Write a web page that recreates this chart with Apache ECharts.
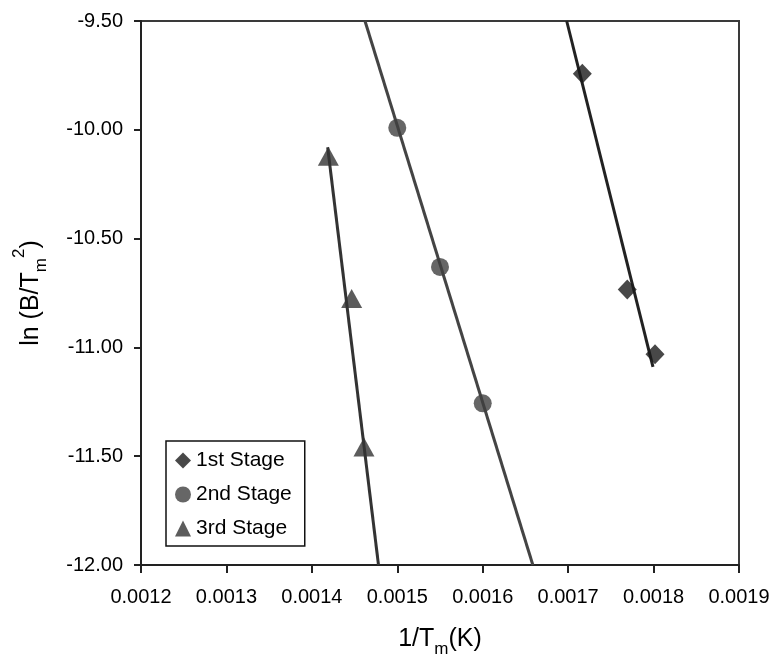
<!DOCTYPE html>
<html>
<head>
<meta charset="utf-8">
<script src="https://cdn.jsdelivr.net/npm/echarts@6/dist/echarts.min.js"></script>
<style>
  html, body { margin: 0; padding: 0; background: #fff; }
</style>
</head>
<body>
<div id="chart1" style="width:775px;height:664px"></div>
<script>
// data: [1/Tm, ln(B/Tm^2)]
var stage1 = [[0.0017166, -9.742], [0.0017692, -10.734], [0.0018017, -11.031]];
var stage2 = [[0.0015, -9.991], [0.00155, -10.630], [0.0016, -11.257]];
var stage3 = [[0.0014193, -10.121], [0.0014466, -10.775], [0.0014610, -11.458]];

// fitted lines (end points)
var fit1 = [[0.0016983, -9.5], [0.0017993, -11.089]];
var fit2 = [[0.0014622, -9.5], [0.0016587, -12.0]];
var fit3 = [[0.0014185, -10.08], [0.0014780, -12.0]];

var seriesNames = ['1st Stage', '2nd Stage', '3rd Stage'];

var font = 'Liberation Sans, Arial, sans-serif';
var myChart1 = echarts.init(document.getElementById('chart1'));

var option = {
    backgroundColor: '#fff',
    animation: false,
    grid: {
        left: 141,
        right: 36,
        top: 21,
        bottom: 99,
        show: true,
        borderColor: '#3a3a3a',
        borderWidth: 2
    },
    legend: {
        orient: 'vertical',
        left: 166,
        top: 441,
        data: seriesNames,
        itemWidth: 16,
        itemHeight: 16,
        itemGap: 13,
        padding: [9, 13, 7, 9],
        borderColor: '#111',
        borderWidth: 1.5,
        backgroundColor: '#fff',
        textStyle: { fontFamily: font, fontSize: 21, color: '#000', lineHeight: 21 }
    },
    xAxis: {
        type: 'value',
        min: 0.0012,
        max: 0.0019,
        interval: 0.0001,
        name: '{a|1/T}{s|m}{a|(K)}',
        nameLocation: 'middle',
        nameGap: 62,
        nameTextStyle: {
            rich: {
                a: { fontFamily: font, fontSize: 25, color: '#000', verticalAlign: 'bottom' },
                s: { fontFamily: font, fontSize: 17, color: '#000', verticalAlign: 'bottom', padding: [0, 0, -6, 0] }
            }
        },
        axisLine: { show: true, lineStyle: { color: '#222', width: 2 } },
        axisTick: { show: true, inside: false, length: 8, lineStyle: { color: '#222', width: 2 } },
        axisLabel: {
            margin: 22,
            fontFamily: font,
            fontSize: 20,
            color: '#000',
            formatter: function (value) {
                return value.toFixed(4);
            }
        },
        splitLine: { show: false }
    },
    yAxis: {
        type: 'value',
        min: -12,
        max: -9.5,
        interval: 0.5,
        name: '{a|ln (B/T}{s|m}{p|2}{a|)}',
        nameLocation: 'middle',
        nameGap: 97,
        nameRotate: 90,
        nameTextStyle: {
            rich: {
                a: { fontFamily: font, fontSize: 25, color: '#000', verticalAlign: 'bottom' },
                s: { fontFamily: font, fontSize: 17, color: '#000', verticalAlign: 'bottom', padding: [0, 0, -6, 0] },
                p: { fontFamily: font, fontSize: 17, color: '#000', verticalAlign: 'top', padding: [-8, 0, 0, 0] }
            }
        },
        axisLine: { show: true, lineStyle: { color: '#222', width: 2 } },
        axisTick: { show: true, inside: false, length: 7, lineStyle: { color: '#222', width: 2 } },
        axisLabel: {
            margin: 18,
            fontFamily: font,
            fontSize: 20,
            color: '#000',
            formatter: function (value) {
                return value.toFixed(2);
            }
        },
        splitLine: { show: false }
    },
    series: [
        {
            name: 'fit1', type: 'line', data: fit1, symbol: 'none',
            lineStyle: { color: '#222', width: 3 }, z: 2
        },
        {
            name: 'fit2', type: 'line', data: fit2, symbol: 'none',
            lineStyle: { color: '#444', width: 3 }, z: 2
        },
        {
            name: 'fit3', type: 'line', data: fit3, symbol: 'none',
            lineStyle: { color: '#333', width: 3 }, z: 2
        },
        {
            name: '1st Stage', type: 'scatter', data: stage1,
            symbol: 'diamond', symbolSize: [19, 20],
            itemStyle: { color: '#1a1a1a' }, z: 3
        },
        {
            name: '2nd Stage', type: 'scatter', data: stage2,
            symbol: 'circle', symbolSize: 18,
            itemStyle: { color: '#404040' }, z: 3
        },
        {
            name: '3rd Stage', type: 'scatter', data: stage3,
            symbol: 'triangle', symbolSize: [21, 19],
            itemStyle: { color: '#333' }, z: 3
        }
    ]
};
myChart1.setOption(option);
</script>
</body>
</html>
